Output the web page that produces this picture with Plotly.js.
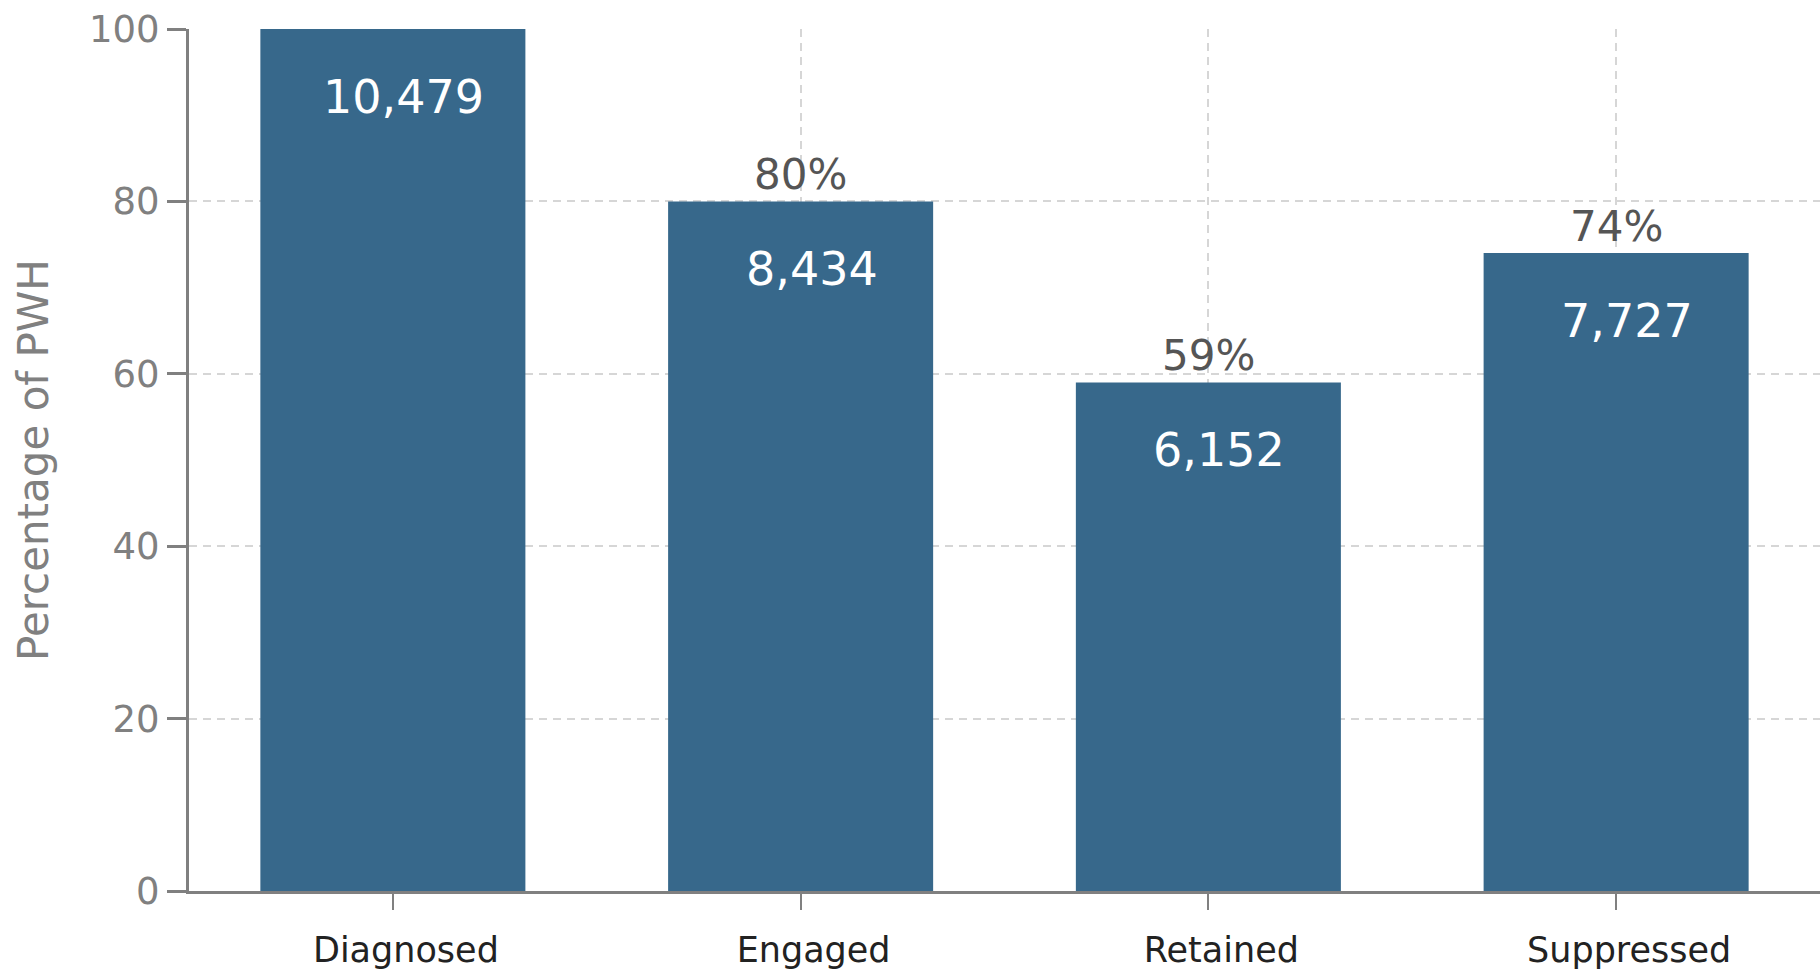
<!DOCTYPE html>
<html>
<head>
<meta charset="utf-8">
<script src="https://cdn.plot.ly/plotly-3.0.1.min.js"></script>
<style>html,body{margin:0;padding:0;background:#fff;}#chart{width:1820px;height:969px;}</style>
</head>
<body>
<div id="chart"></div>
<script>
const categories = ["Diagnosed", "Engaged", "Retained", "Suppressed"];
const percentOfPWH = [100, 80, 59, 74];
const counts = [10479, 8434, 6152, 7727];
const percentLabels = ["", "80%", "59%", "74%"];
const yTicks = [0, 20, 40, 60, 80, 100];

const FONT = "DejaVu Sans, Open Sans, sans-serif";
const barColor = "#37688b";

const trace = {
  type: "bar",
  x: categories,
  y: percentOfPWH,
  width: 0.65,
  marker: {color: barColor},
  hoverinfo: "skip"
};

const annotations = [];
categories.forEach((c, i) => {
  annotations.push({
    x: c, y: percentOfPWH[i], xref: "x", yref: "y",
    text: counts[i].toLocaleString("en-US"),
    showarrow: false, yanchor: "middle", xanchor: "center",
    yshift: -68, xshift: 11,
    font: {family: FONT, size: 46, color: "#ffffff"}
  });
  if (percentLabels[i]) {
    annotations.push({
      x: c, y: percentOfPWH[i], xref: "x", yref: "y",
      text: percentLabels[i],
      showarrow: false, yanchor: "bottom", xanchor: "center",
      yshift: 0,
      font: {family: FONT, size: 42, color: "#555555"}
    });
  }
});

const layout = {
  width: 1820, height: 969,
  margin: {l: 189, r: 0, t: 29, b: 78},
  paper_bgcolor: "#ffffff", plot_bgcolor: "#ffffff",
  showlegend: false,
  bargap: 0.35,
  xaxis: {
    type: "category",
    range: [-0.5, 3.5],
    showline: true, linecolor: "#808080", linewidth: 3,
    ticks: "outside", ticklen: 16, tickwidth: 2, tickcolor: "#808080",
    showgrid: true, gridcolor: "#d6d6d6", gridwidth: 2, griddash: "8px,6px",
    tickfont: {family: FONT, size: 35, color: "#222222"},
    ticklabelshift: 13, ticklabelstandoff: 10,
    zeroline: false, fixedrange: true
  },
  yaxis: {
    range: [0, 100],
    tickvals: yTicks,
    showline: true, linecolor: "#808080", linewidth: 3,
    ticks: "outside", ticklen: 19, tickwidth: 3, tickcolor: "#808080",
    showgrid: true, gridcolor: "#d6d6d6", gridwidth: 2, griddash: "8px,6px",
    tickfont: {family: FONT, size: 37, color: "#808080"},
    title: {text: "Percentage of PWH", font: {family: FONT, size: 42, color: "#808080"}, standoff: 28},
    zeroline: false, fixedrange: true
  },
  annotations: annotations
};

Plotly.newPlot("chart", [trace], layout, {displayModeBar: false, staticPlot: true});
</script>
</body>
</html>
